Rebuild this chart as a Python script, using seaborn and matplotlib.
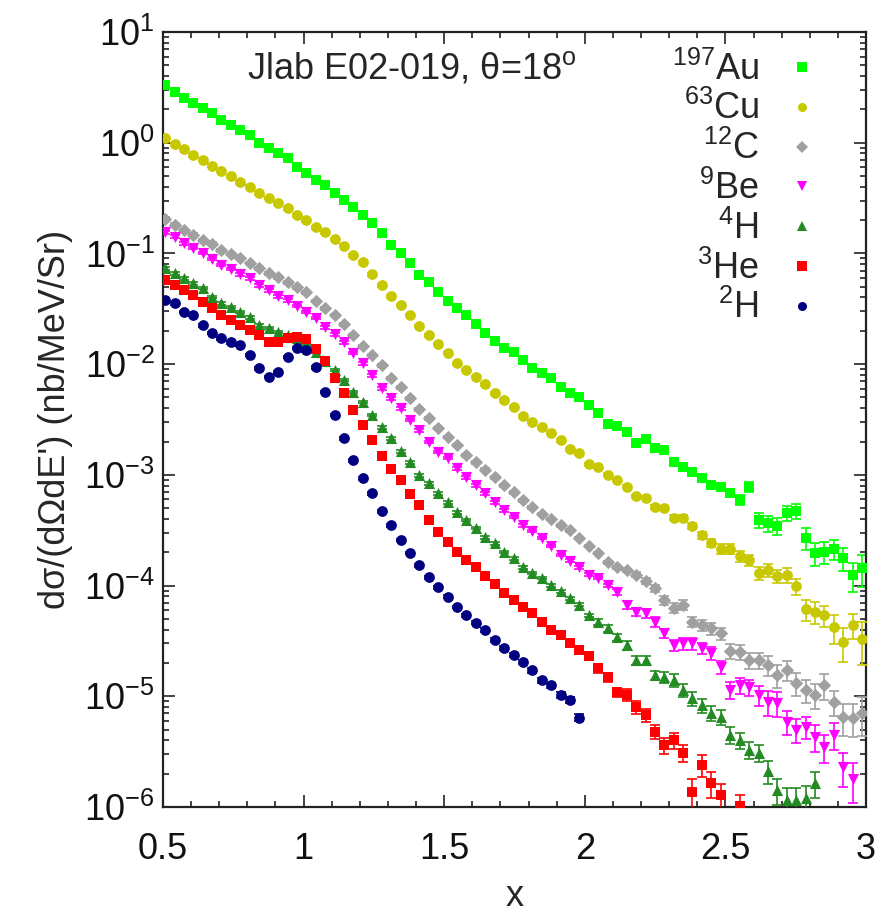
import numpy as np
import matplotlib
matplotlib.use("Agg")
import matplotlib.pyplot as plt
from matplotlib.lines import Line2D
from matplotlib.ticker import LogLocator, MultipleLocator, FixedLocator, LogFormatterMathtext, NullFormatter
import seaborn as sns

# Bjorken x bin centres (shared by all targets)
x_bins = [0.507, 0.541, 0.574, 0.608, 0.641, 0.675, 0.708, 0.742, 0.775, 0.809,
          0.842, 0.876, 0.909, 0.943, 0.976, 1.010, 1.043, 1.077, 1.110, 1.144,
          1.177, 1.211, 1.244, 1.278, 1.311, 1.345, 1.378, 1.412, 1.445, 1.479,
          1.512, 1.546, 1.579, 1.613, 1.646, 1.680, 1.713, 1.747, 1.780, 1.814,
          1.847, 1.881, 1.914, 1.948, 1.981, 2.015, 2.048, 2.082, 2.115, 2.149,
          2.182, 2.216, 2.249, 2.283, 2.316, 2.350, 2.383, 2.417, 2.450, 2.484,
          2.517, 2.551, 2.584, 2.618, 2.651, 2.685, 2.718, 2.752, 2.785, 2.819,
          2.852, 2.886, 2.919, 2.953, 2.986]

# cross sections, nb/MeV/sr
xs_au197 = [3.32, 2.87, 2.53, 2.28, 2.06, 1.86, 1.60, 1.45, 1.30, 1.18,
            0.994, 0.895, 0.807, 0.728, 0.603, 0.532, 0.460, 0.415, 0.351, 0.304,
            0.263, 0.222, 0.188, 0.153, 0.119, 0.101, 0.0819, 0.0638, 0.0552, 0.0448,
            0.0372, 0.0321, 0.0278, 0.0230, 0.0191, 0.0162, 0.0140, 0.0129, 0.0109, 0.00922,
            0.00831, 0.00749, 0.00621, 0.00548, 0.00504, 0.00427, 0.00362, 0.00288, 0.00276, 0.00244,
            0.00194, 0.00211, 0.00175, 0.00167, 0.00130, 0.00118, 0.00106, 0.000935, 0.000809, 0.000776,
            0.000685, 0.000592, 0.000776, 0.000391, 0.000367, 0.000345, 0.000452, 0.000471, 0.000269, 0.000197,
            0.000201, 0.000214, 0.000177, 0.000124, 0.000144]
xs_cu63 = [1.10, 0.97, 0.88, 0.77, 0.70, 0.62, 0.555, 0.50, 0.44, 0.40,
           0.351, 0.317, 0.285, 0.257, 0.222, 0.200, 0.173, 0.156, 0.135, 0.117,
           0.0967, 0.0836, 0.0651, 0.0518, 0.0412, 0.0342, 0.0278, 0.0221, 0.0183, 0.0152,
           0.0126, 0.0102, 0.00885, 0.00765, 0.00661, 0.00548, 0.00474, 0.00410, 0.00340, 0.00300,
           0.00270, 0.00239, 0.00206, 0.00171, 0.00157, 0.00125, 0.00118, 0.00100, 0.00090, 0.00078,
           0.00064, 0.00062, 0.00051, 0.00050, 0.00041, 0.00041, 0.000345, 0.000286, 0.000242, 0.000214,
           0.000214, 0.000185, 0.000170, 0.000130, 0.000138, 0.000122, 0.000125, 0.000099, 6.1e-5, 5.8e-5,
           5.4e-5, 4.2e-5, 3.1e-5, 4.4e-5, 3.3e-5]
xs_c12 = [0.205, 0.181, 0.163, 0.147, 0.132, 0.122, 0.107, 0.0988, 0.0909, 0.0819,
          0.0738, 0.0665, 0.0612, 0.0551, 0.0497, 0.0448, 0.0372, 0.0321, 0.0278, 0.0230,
          0.0183, 0.0146, 0.0121, 0.00981, 0.00749, 0.00621, 0.00494, 0.00393, 0.00326, 0.00265,
          0.00220, 0.00186, 0.00151, 0.00130, 0.00111, 0.000955, 0.000809, 0.000699, 0.000592, 0.000512,
          0.000443, 0.000399, 0.000352, 0.000317, 0.000269, 0.000228, 0.000197, 0.000163, 0.000147, 0.000138,
          0.000125, 0.000110, 9.5e-5, 7.4e-5, 6.3e-5, 6.7e-5, 4.7e-5, 4.4e-5, 4.1e-5, 3.7e-5,
          2.56e-5, 2.51e-5, 2.12e-5, 2.12e-5, 1.91e-5, 1.55e-5, 1.72e-5, 1.32e-5, 1.14e-5, 1.03e-5,
          1.26e-5, 8.9e-6, 6.5e-6, 6.4e-6, 7.1e-6]
xs_be9 = [0.156, 0.141, 0.124, 0.112, 0.101, 0.0890, 0.0786, 0.0723, 0.0651, 0.0599,
          0.0518, 0.0467, 0.0412, 0.0379, 0.0335, 0.0296, 0.0261, 0.0216, 0.0187, 0.0158,
          0.0126, 0.0102, 0.00797, 0.00608, 0.00494, 0.00401, 0.00313, 0.00254, 0.00198, 0.00161,
          0.00142, 0.00115, 0.000955, 0.000809, 0.000685, 0.000568, 0.000481, 0.000416, 0.000352, 0.000311,
          0.000269, 0.000228, 0.000189, 0.000167, 0.000147, 0.000125, 0.000117, 0.000101, 8.7e-5, 6.7e-5,
          5.8e-5, 5.6e-5, 4.7e-5, 3.7e-5, 2.9e-5, 3.0e-5, 3.0e-5, 2.73e-5, 2.46e-5, 1.84e-5,
          1.14e-5, 1.26e-5, 1.21e-5, 1.03e-5, 8.9e-6, 8.7e-6, 5.9e-6, 5.0e-6, 5.3e-6, 4.3e-6,
          3.5e-6, 4.5e-6, 2.3e-6, 1.8e-6]
xs_h4 = [0.0738, 0.0665, 0.0599, 0.0540, 0.0487, 0.0404, 0.0356, 0.0328, 0.0296, 0.0266,
         0.0225, 0.0212, 0.0195, 0.0183, 0.0172, 0.0155, 0.0129, 0.0107, 0.00885, 0.00719,
         0.00560, 0.00455, 0.00347, 0.00270, 0.00215, 0.00164, 0.00130, 0.000996, 0.000843, 0.000685,
         0.000568, 0.000459, 0.000391, 0.000331, 0.000274, 0.000242, 0.000201, 0.000177, 0.000147, 0.000130,
         0.000117, 0.000101, 8.9e-5, 7.7e-5, 6.7e-5, 5.4e-5, 4.7e-5, 4.1e-5, 3.4e-5, 2.9e-5,
         2.12e-5, 2.12e-5, 1.55e-5, 1.49e-5, 1.40e-5, 1.14e-5, 9.6e-6, 8.3e-6, 7.1e-6, 6.5e-6,
         4.5e-6, 4.0e-6, 3.3e-6, 3.1e-6, 2.1e-6, 1.42e-6, 1.15e-6, 1.15e-6, 1.20e-6, 1.64e-6]
xs_he3 = [0.0575, 0.0518, 0.0467, 0.0421, 0.0364, 0.0321, 0.0278, 0.0250, 0.0225, 0.0203,
          0.0183, 0.0158, 0.0158, 0.0172, 0.0176, 0.0169, 0.0137, 0.0107, 0.00749, 0.00548,
          0.00385, 0.00282, 0.00206, 0.00148, 0.00113, 0.000897, 0.000671, 0.000534, 0.000391, 0.000304,
          0.000247, 0.000201, 0.000170, 0.000147, 0.000122, 0.000103, 8.6e-5, 7.4e-5, 6.4e-5, 5.6e-5,
          4.7e-5, 4.0e-5, 3.6e-5, 3.0e-5, 2.6e-5, 2.3e-5, 1.80e-5, 1.49e-5, 1.09e-5, 1.03e-5,
          8.0e-6, 6.8e-6, 4.8e-6, 3.6e-6, 4.0e-6, 3.1e-6, 1.36e-6, 2.4e-6, 1.64e-6, 1.28e-6,
          np.nan, 1.02e-6]
xs_h2 = [0.0379, 0.0356, 0.0296, 0.0278, 0.0225, 0.0191, 0.0172, 0.0158, 0.0149, 0.0121,
         0.00922, 0.00765, 0.00848, 0.0116, 0.0140, 0.0134, 0.00941, 0.00560, 0.00347, 0.00215,
         0.00136, 0.000935, 0.000685, 0.000471, 0.000352, 0.000258, 0.000197, 0.000153, 0.000119, 9.7e-5,
         7.9e-5, 6.4e-5, 5.4e-5, 4.6e-5, 4.0e-5, 3.2e-5, 2.73e-5, 2.36e-5, 2.04e-5, 1.72e-5,
         1.40e-5, 1.26e-5, 1.03e-5, 9.2e-6, 6.4e-6]

# relative uncertainties
rel_au197 = [0.03, 0.03, 0.03, 0.03, 0.03, 0.03, 0.03, 0.03, 0.03, 0.03,
             0.03, 0.03, 0.03, 0.03, 0.03, 0.03, 0.03, 0.03, 0.03, 0.03,
             0.03, 0.03, 0.03, 0.03, 0.03, 0.03, 0.03, 0.03, 0.03, 0.03,
             0.03, 0.03, 0.03, 0.03, 0.03, 0.03, 0.03, 0.03, 0.03, 0.03,
             0.03, 0.03, 0.03, 0.03, 0.03, 0.03, 0.03, 0.03, 0.03, 0.03,
             0.03, 0.03, 0.03, 0.03, 0.03, 0.04, 0.05, 0.06, 0.07, 0.07,
             0.08, 0.10, 0.10, 0.16, 0.17, 0.17, 0.16, 0.16, 0.22, 0.24,
             0.22, 0.21, 0.23, 0.29, 0.32]
rel_cu63 = [0.03, 0.03, 0.03, 0.03, 0.03, 0.03, 0.03, 0.03, 0.03, 0.03,
            0.03, 0.03, 0.03, 0.03, 0.03, 0.03, 0.03, 0.03, 0.03, 0.03,
            0.03, 0.03, 0.03, 0.03, 0.03, 0.03, 0.03, 0.03, 0.03, 0.03,
            0.03, 0.03, 0.03, 0.03, 0.03, 0.03, 0.03, 0.03, 0.03, 0.03,
            0.03, 0.03, 0.03, 0.03, 0.03, 0.03, 0.03, 0.03, 0.03, 0.03,
            0.03, 0.03, 0.04, 0.04, 0.05, 0.05, 0.06, 0.07, 0.08, 0.10,
            0.10, 0.11, 0.12, 0.14, 0.14, 0.14, 0.15, 0.17, 0.22, 0.22,
            0.21, 0.30, 0.34, 0.25, 0.42]
rel_c12 = [0.03, 0.03, 0.03, 0.03, 0.03, 0.03, 0.03, 0.03, 0.03, 0.03,
           0.03, 0.03, 0.03, 0.03, 0.03, 0.03, 0.03, 0.03, 0.03, 0.03,
           0.03, 0.03, 0.03, 0.03, 0.03, 0.03, 0.03, 0.03, 0.03, 0.03,
           0.03, 0.03, 0.03, 0.03, 0.03, 0.03, 0.03, 0.03, 0.03, 0.03,
           0.03, 0.03, 0.03, 0.03, 0.03, 0.03, 0.03, 0.03, 0.03, 0.03,
           0.05, 0.06, 0.07, 0.09, 0.10, 0.10, 0.10, 0.11, 0.12, 0.12,
           0.15, 0.15, 0.16, 0.17, 0.20, 0.24, 0.20, 0.24, 0.24, 0.26,
           0.26, 0.26, 0.32, 0.33, 0.38]
rel_be9 = [0.03, 0.03, 0.03, 0.03, 0.03, 0.03, 0.03, 0.03, 0.03, 0.03,
           0.03, 0.03, 0.03, 0.03, 0.03, 0.03, 0.03, 0.03, 0.03, 0.03,
           0.03, 0.03, 0.03, 0.03, 0.03, 0.03, 0.03, 0.03, 0.03, 0.03,
           0.03, 0.03, 0.03, 0.03, 0.03, 0.03, 0.03, 0.03, 0.03, 0.03,
           0.03, 0.03, 0.03, 0.03, 0.03, 0.03, 0.03, 0.03, 0.06, 0.08,
           0.08, 0.09, 0.10, 0.10, 0.12, 0.12, 0.12, 0.12, 0.13, 0.14,
           0.17, 0.17, 0.17, 0.20, 0.25, 0.25, 0.25, 0.25, 0.22, 0.27,
           0.28, 0.27, 0.34, 0.40]
rel_h4 = [0.03, 0.03, 0.03, 0.03, 0.03, 0.03, 0.03, 0.03, 0.03, 0.03,
          0.03, 0.03, 0.03, 0.03, 0.03, 0.03, 0.03, 0.03, 0.03, 0.03,
          0.03, 0.03, 0.03, 0.03, 0.03, 0.03, 0.03, 0.03, 0.03, 0.03,
          0.03, 0.03, 0.03, 0.03, 0.03, 0.03, 0.03, 0.03, 0.03, 0.03,
          0.03, 0.03, 0.03, 0.03, 0.03, 0.03, 0.06, 0.07, 0.08, 0.09,
          0.09, 0.10, 0.10, 0.12, 0.13, 0.13, 0.14, 0.15, 0.15, 0.16,
          0.17, 0.17, 0.17, 0.18, 0.23, 0.26, 0.28, 0.28, 0.28, 0.26]
rel_he3 = [0.03, 0.03, 0.03, 0.03, 0.03, 0.03, 0.03, 0.03, 0.03, 0.03,
           0.03, 0.03, 0.03, 0.03, 0.03, 0.03, 0.03, 0.03, 0.03, 0.03,
           0.03, 0.03, 0.03, 0.03, 0.03, 0.03, 0.03, 0.03, 0.03, 0.03,
           0.03, 0.03, 0.03, 0.03, 0.03, 0.03, 0.03, 0.03, 0.03, 0.03,
           0.03, 0.03, 0.03, 0.03, 0.06, 0.08, 0.09, 0.10, 0.10, 0.12,
           0.13, 0.14, 0.15, 0.17, 0.16, 0.18, 0.33, 0.23, 0.26, 0.26,
           np.nan, 0.27]
rel_h2 = [0.03, 0.03, 0.03, 0.03, 0.03, 0.03, 0.03, 0.03, 0.03, 0.03,
          0.03, 0.03, 0.03, 0.03, 0.03, 0.03, 0.03, 0.03, 0.03, 0.03,
          0.03, 0.03, 0.03, 0.03, 0.03, 0.03, 0.03, 0.03, 0.03, 0.03,
          0.03, 0.03, 0.03, 0.03, 0.04, 0.04, 0.04, 0.04, 0.05, 0.05,
          0.05, 0.05, 0.06, 0.06, 0.07]

labels = [r"$^{197}$Au", r"$^{63}$Cu", r"$^{12}$C", r"$^{9}$Be",
          r"$^{4}$H", r"$^{3}$He", r"$^{2}$H"]
values = [xs_au197, xs_cu63, xs_c12, xs_be9, xs_h4, xs_he3, xs_h2]
errors = [rel_au197, rel_cu63, rel_c12, rel_be9, rel_h4, rel_he3, rel_h2]
colors = ["#00ff00", "#c8c800", "#a0a0a0", "#ff00ff", "#228b22", "#ff0000", "#000080"]
markers = ["s", "o", "D", "v", "^", "s", "o"]
msizes = [52, 60, 46, 64, 64, 52, 60]

y_decades = [1e-6, 1e-5, 1e-4, 1e-3, 1e-2, 1e-1, 1e0, 1e1]
x_major = [0.5, 1.0, 1.5, 2.0, 2.5, 3.0]
x_major_text = ["0.5", "1", "1.5", "2", "2.5", "3"]

sns.set_theme(style="ticks")
plt.rcParams["font.family"] = ["Liberation Sans", "DejaVu Sans"]
plt.rcParams["mathtext.fontset"] = "custom"
plt.rcParams["mathtext.rm"] = "Liberation Sans"
plt.rcParams["mathtext.it"] = "Liberation Sans:italic"
plt.rcParams["mathtext.bf"] = "Liberation Sans:bold"
plt.rcParams["mathtext.default"] = "regular"

FS = 26
fig = plt.figure(figsize=(8.83, 9.17), dpi=100)
ax = fig.add_axes([163 / 883, 1 - 807 / 917, 703 / 883, 775 / 917])

for i, (lab, vals, rel, col, mk, ms) in enumerate(zip(labels, values, errors, colors, markers, msizes)):
    xv = np.array(x_bins[:len(vals)])
    yv = np.array(vals, dtype=float)
    ev = yv * np.array(rel, dtype=float)
    ax.errorbar(xv, yv, yerr=ev, fmt="none", ecolor=col, elinewidth=1.2,
                capsize=3.8, capthick=1.2, zorder=2 + 2 * i)
    sns.scatterplot(x=xv, y=yv, marker=mk, color=col, s=ms, linewidth=0,
                    ax=ax, zorder=3 + 2 * i, legend=False)

ax.set_yscale("log")
ax.set_xlim(0.5, 3.0)
ax.set_ylim(1e-6, 10)

# minor ticks: 2..9 within each decade of the visible range
y_minor = [m * d for d in y_decades[:-1] for m in range(2, 10)]

ax.xaxis.set_major_locator(FixedLocator(x_major))
ax.xaxis.set_minor_locator(MultipleLocator(0.1))
ax.set_xticklabels(x_major_text)
ax.yaxis.set_major_locator(FixedLocator(y_decades))
ax.yaxis.set_minor_locator(FixedLocator(y_minor))
ax.yaxis.set_major_formatter(LogFormatterMathtext())
ax.yaxis.set_minor_formatter(NullFormatter())
ax.tick_params(which="both", direction="in", top=True, right=True,
               labelsize=FS, colors="#111111", width=1.1)
ax.tick_params(which="major", length=8.5)
ax.tick_params(which="minor", length=4.3)
ax.tick_params(axis="x", which="major", pad=18)
ax.tick_params(axis="y", which="major", pad=6)
for sp in ax.spines.values():
    sp.set_linewidth(1.6)
    sp.set_color("#222222")

ax.set_xlabel("x", fontsize=FS, labelpad=9)
ax.set_ylabel("dσ/(dΩdE') (nb/MeV/Sr)", fontsize=FS, labelpad=8)

ax.text(0.12, 0.953, r"Jlab E02-019, θ=18$^{\mathrm{o}}$", transform=ax.transAxes,
        ha="left", va="center", fontsize=FS)

handles = [Line2D([], [], ls="none", marker=m, color=c, markersize=6.5, markeredgewidth=0)
           for m, c in zip(markers, colors)]
ax.legend(handles, labels, loc="upper right", bbox_to_anchor=(0.93, 0.975),
          frameon=False, fontsize=FS, markerfirst=False, handlelength=0.8,
          handletextpad=0.8, labelspacing=0.1, borderaxespad=0, borderpad=0)

fig.savefig("out.png", dpi=100)
